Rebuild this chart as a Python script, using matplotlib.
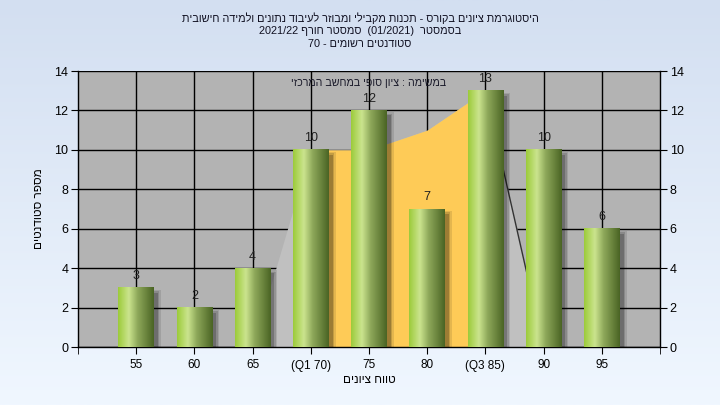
import re
import numpy as np
import matplotlib
matplotlib.use("Agg")
import matplotlib.pyplot as plt
from matplotlib.colors import LinearSegmentedColormap
from matplotlib.patches import Rectangle

plt.rcParams['font.family'] = ['Liberation Sans', 'DejaVu Sans']

# data
categories = ['55', '60', '65', '(Q1 70)', '75', '80', '(Q3 85)', '90', '95']
counts = [3, 2, 4, 10, 12, 7, 13, 10, 6]
# background curve (index on the category axis, value)
curve_idx = [2, 3, 4, 5, 6, 7]
curve_val = [0, 10, 10, 11, 13, 0]
q1_idx, q3_idx = 3, 6

title_lines = [
    "היסטוגרמת ציונים בקורס - תכנות מקבילי ומבוזר לעיבוד נתונים ולמידה חישובית",
    "בסמסטר  (01/2021)  סמסטר חורף 2021/22",
    "סטודנטים רשומים - 70",
]
inner_title = "במשימה : ציון סופי במחשב המרכזי"
xlabel = "טווח ציונים"
ylabel = "מספר סטודנטים"


def rtl(s):
    # matplotlib has no bidi, so put the Hebrew into visual order
    r = s[::-1]
    r = re.sub(r'[0-9][0-9/.]*[0-9]|[0-9]', lambda m: m.group(0)[::-1], r)
    return r.translate(str.maketrans('()', ')('))


fig = plt.figure(figsize=(7.2, 4.05), dpi=100)

# light blue gradient behind everything
bg = fig.add_axes([0, 0, 1, 1], zorder=-10)
bg_cmap = LinearSegmentedColormap.from_list('bg', ['#d3dff1', '#f0f7ff'])
bg.imshow(np.linspace(0, 1, 256).reshape(-1, 1), aspect='auto', cmap=bg_cmap,
          extent=[0, 1, 0, 1])
bg.axis('off')

ax = fig.add_axes([78 / 720, 58 / 405, 582 / 720, 276 / 405])
ax.set_facecolor('#b3b3b3')

x = np.arange(len(categories))
ax.set_axisbelow(True)
ax.grid(True, color='black', linewidth=1, zorder=0)

# grey curve + yellow inter-quartile part
cx = np.array(curve_idx, dtype=float)
cv = np.array(curve_val, dtype=float)
ax.fill_between(cx, 0, cv, color='#c0c0c0', zorder=1, linewidth=0)
mid = (cx >= q1_idx) & (cx <= q3_idx)
ax.fill_between(cx[mid], 0, cv[mid], color='#fecb57', zorder=1.1, linewidth=0)
ax.plot(cx[-2:], cv[-2:], color='#333333', linewidth=1, zorder=1.2)

# cylinder-like bars
bar_w = 0.61
bar_cmap = LinearSegmentedColormap.from_list(
    'bar', [(0, '#9ccb3a'), (0.3, '#cbe48e'), (0.55, '#8ea85a'), (1, '#4a6424')])
grad = np.linspace(0, 1, 128).reshape(1, -1)
for xi, h in zip(x, counts):
    for k, a in enumerate([0.10, 0.14, 0.2]):
        grow = (2 - k) * 0.025
        ax.add_patch(Rectangle((xi - bar_w / 2 + 0.07 - grow, -0.25 - grow * 3),
                               bar_w + 2 * grow, h + 2 * grow * 3,
                               color='black', alpha=a, linewidth=0, zorder=2))
    ax.imshow(grad, cmap=bar_cmap, aspect='auto', zorder=3,
              extent=[xi - bar_w / 2, xi + bar_w / 2, 0, h])
    ax.annotate(str(h), (xi, h), xytext=(0, 4), textcoords='offset points',
                ha='center', va='bottom', fontsize=9, color='#202020', zorder=4)

ax.set_xlim(-1, len(categories))
ax.set_ylim(0, 14)
ax.set_xticks(x)
ax.set_xticklabels(categories, fontsize=8.5)
ax.set_xticks([-1, len(categories)], minor=True)
ax.set_yticks(range(0, 15, 2))
ax.tick_params(axis='y', labelsize=9, length=5, right=True, labelright=True,
               direction='out', pad=2)
ax.tick_params(axis='x', which='both', length=5, direction='out', pad=4)
for s in ax.spines.values():
    s.set_color('black')
    s.set_linewidth(1)
ax.spines['top'].set_visible(False)

ax.set_xlabel(rtl(xlabel), fontsize=8.5, labelpad=2)
ax.set_ylabel(rtl(ylabel), fontsize=8.5, labelpad=7)

ax.text(0.5, 0.955, rtl(inner_title), transform=ax.transAxes, ha='center',
        va='center', fontsize=7.7, color='#1a1a2a', zorder=5)

for i, line in enumerate(title_lines):
    fig.text(0.5, 1 - (18 + 13 * i) / 405, rtl(line), ha='center', va='center',
             fontsize=7.8, color='#111122')

fig.savefig('out.png', dpi=100)
